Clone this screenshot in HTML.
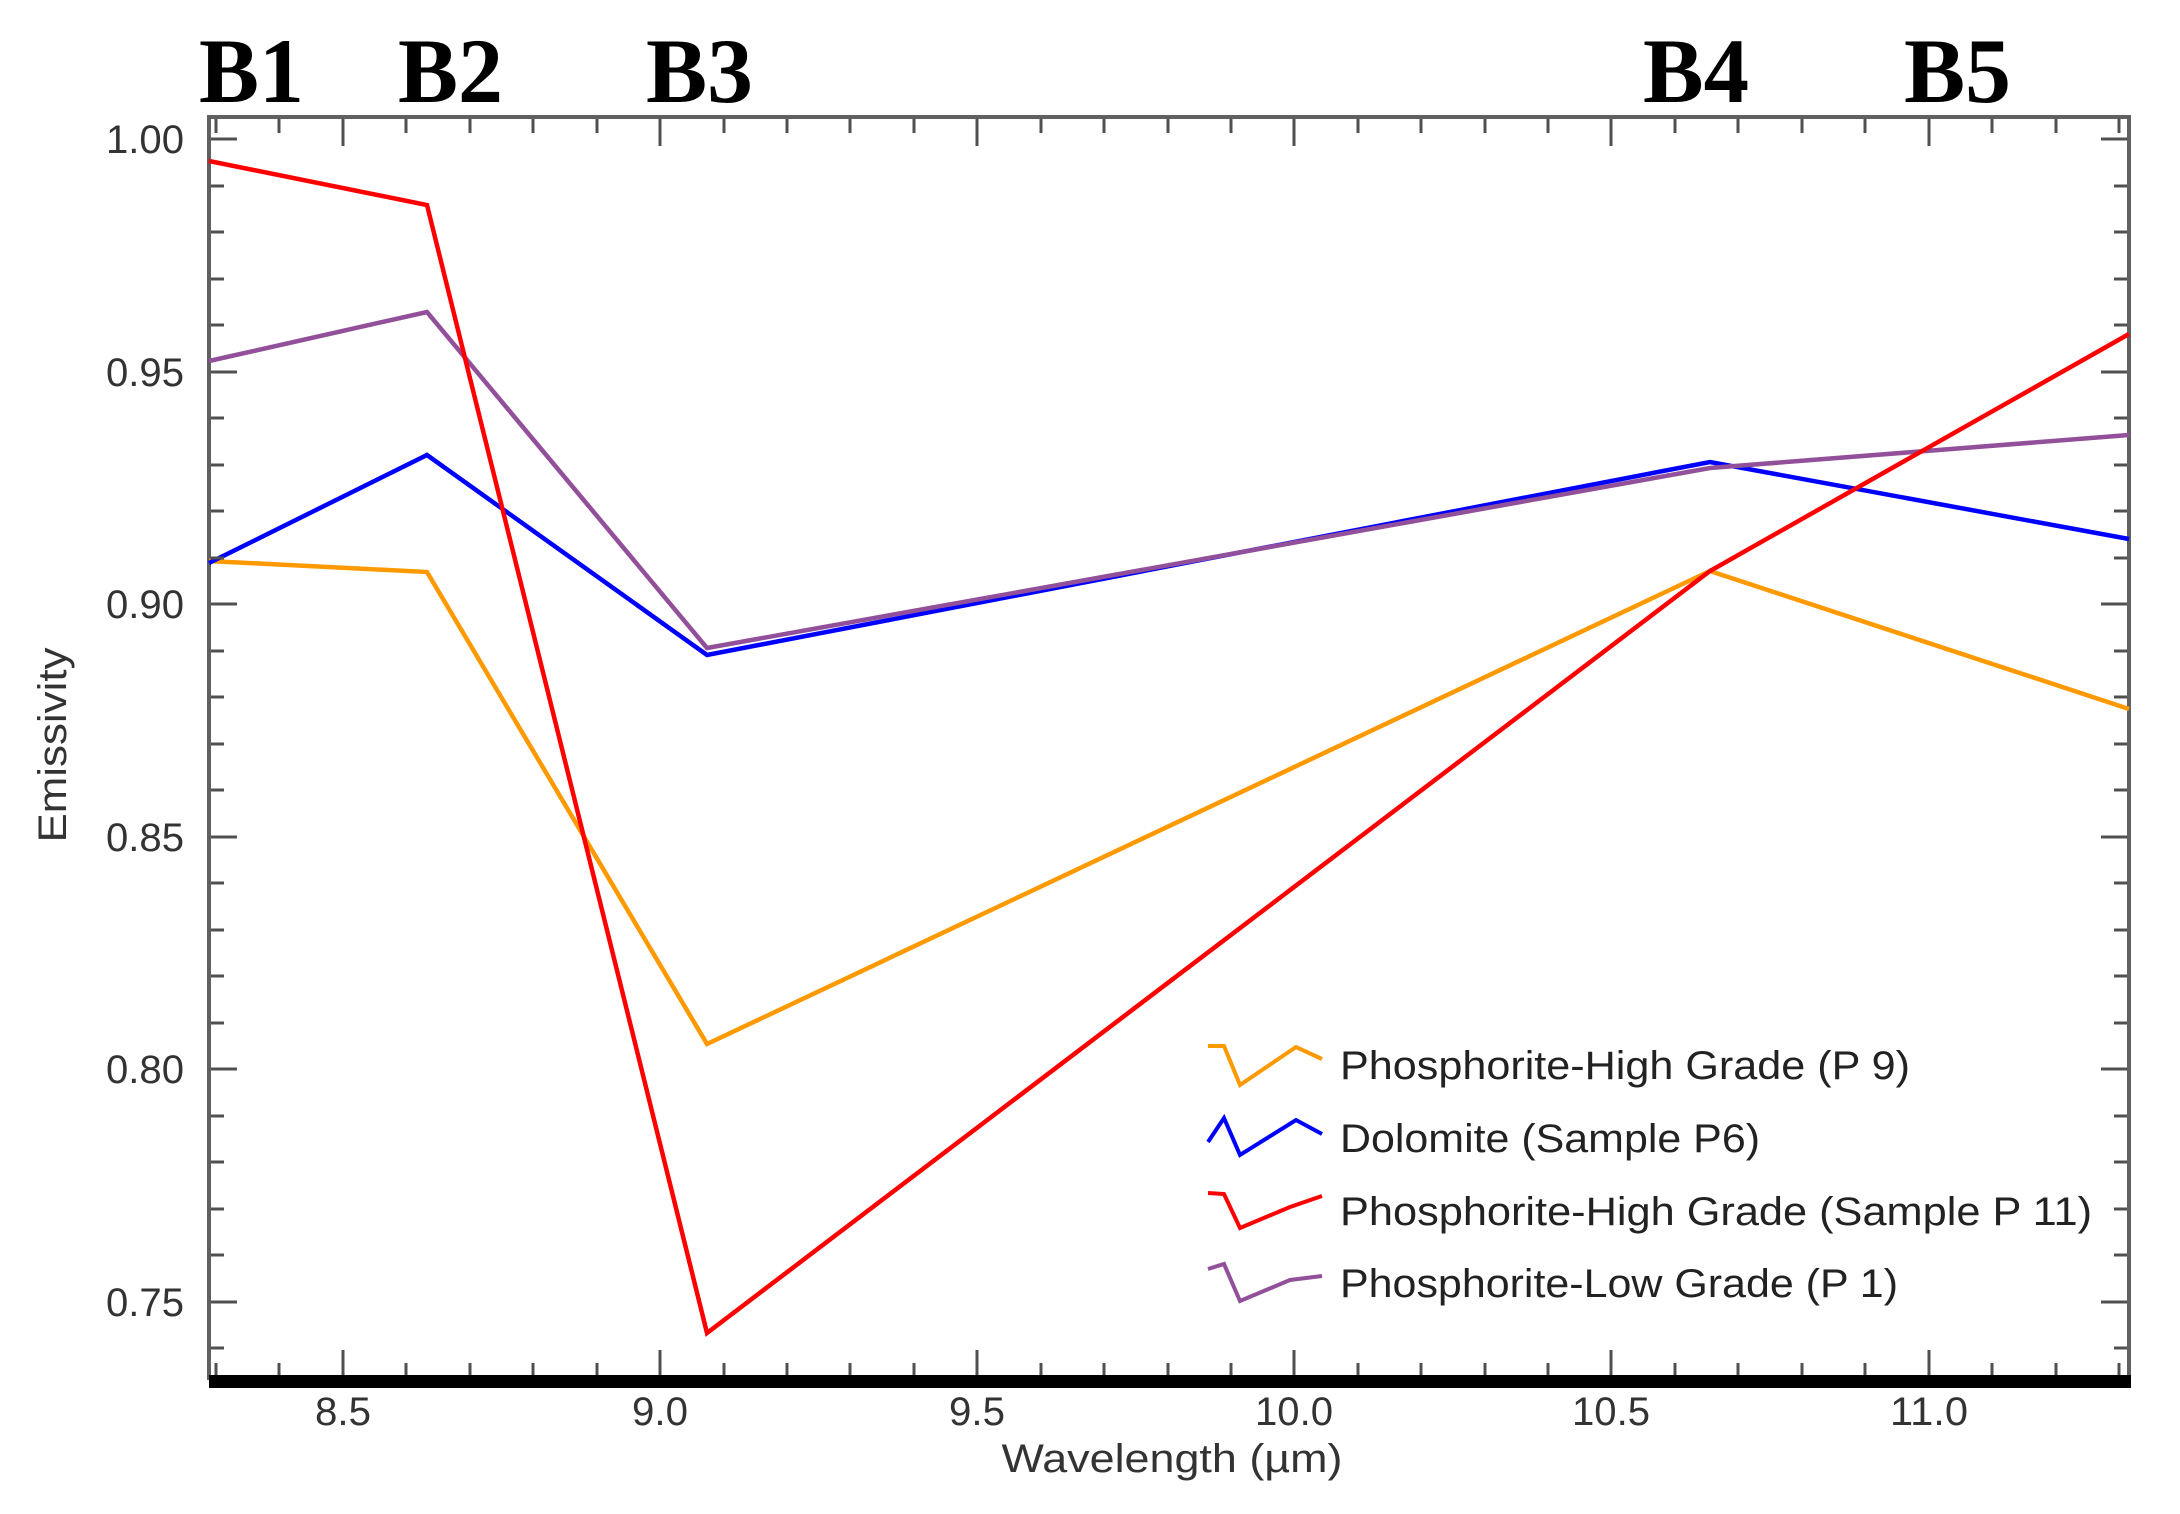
<!DOCTYPE html>
<html><head><meta charset="utf-8"><style>
html,body{margin:0;padding:0;background:#fff;}
svg{display:block;}
</style></head><body>
<svg width="2180" height="1514" viewBox="0 0 2180 1514" xmlns="http://www.w3.org/2000/svg">
<rect width="2180" height="1514" fill="#fff"/>
<g font-family="'Liberation Serif',serif" font-size="92" font-weight="bold" fill="#000">
<text x="199" y="102" textLength="105" lengthAdjust="spacingAndGlyphs">B1</text>
<text x="398" y="102" textLength="105" lengthAdjust="spacingAndGlyphs">B2</text>
<text x="646" y="102" textLength="107" lengthAdjust="spacingAndGlyphs">B3</text>
<text x="1643" y="102" textLength="106" lengthAdjust="spacingAndGlyphs">B4</text>
<text x="1904" y="102" textLength="107" lengthAdjust="spacingAndGlyphs">B5</text>
</g>
<g stroke="#606060" stroke-width="4" fill="none">
<line x1="209" y1="117" x2="2131" y2="117"/>
<line x1="209" y1="115" x2="209" y2="1380"/>
<line x1="2129" y1="115" x2="2129" y2="1380"/>
</g>
<rect x="209" y="1375" width="1922" height="13" fill="#000"/>
<g font-family="'Liberation Sans',sans-serif" font-size="40" fill="#333" text-anchor="end">
<text x="184" y="153" textLength="78" lengthAdjust="spacingAndGlyphs">1.00</text>
<text x="184" y="386" textLength="78" lengthAdjust="spacingAndGlyphs">0.95</text>
<text x="184" y="618" textLength="78" lengthAdjust="spacingAndGlyphs">0.90</text>
<text x="184" y="851" textLength="78" lengthAdjust="spacingAndGlyphs">0.85</text>
<text x="184" y="1083" textLength="78" lengthAdjust="spacingAndGlyphs">0.80</text>
<text x="184" y="1316" textLength="78" lengthAdjust="spacingAndGlyphs">0.75</text>
</g>
<g font-family="'Liberation Sans',sans-serif" font-size="40" fill="#333" text-anchor="middle">
<text x="343" y="1425" textLength="56" lengthAdjust="spacingAndGlyphs">8.5</text>
<text x="660" y="1425" textLength="56" lengthAdjust="spacingAndGlyphs">9.0</text>
<text x="977" y="1425" textLength="56" lengthAdjust="spacingAndGlyphs">9.5</text>
<text x="1294" y="1425" textLength="78" lengthAdjust="spacingAndGlyphs">10.0</text>
<text x="1611" y="1425" textLength="78" lengthAdjust="spacingAndGlyphs">10.5</text>
<text x="1929" y="1425" textLength="78" lengthAdjust="spacingAndGlyphs">11.0</text>
<text x="1172" y="1472" textLength="341" lengthAdjust="spacingAndGlyphs">Wavelength (µm)</text>
<text transform="translate(66,745) rotate(-90)" textLength="195" lengthAdjust="spacingAndGlyphs">Emissivity</text>
</g>
<g fill="none" stroke-width="4.5" stroke-linejoin="miter">
<polyline stroke="#ff9900" points="209,561 427,572 707,1044 1710,571 2129,709"/>
<polyline stroke="#0000ff" points="209,563 427,455 707,655 1710,462 2129,539"/>
<polyline stroke="#93509a" points="209,361 427,312 707,648 1710,468 2129,435"/>
<polyline stroke="#ff0000" points="209,161 427,205 707,1333 1710,571 2129,334"/>
</g>
<g fill="none" stroke-width="4">
<polyline stroke="#ff9900" points="1208,1046 1224,1046 1240,1085 1296,1047 1322,1059"/>
<polyline stroke="#0000ff" points="1208,1142 1224,1118 1240,1155 1296,1120 1322,1134"/>
<polyline stroke="#ff0000" points="1208,1193 1224,1194 1240,1228 1290,1207 1322,1196"/>
<polyline stroke="#93509a" points="1208,1269 1224,1264 1240,1301 1290,1280 1322,1276"/>
</g>
<g font-family="'Liberation Sans',sans-serif" font-size="40" fill="#222">
<text x="1340" y="1079" textLength="570" lengthAdjust="spacingAndGlyphs">Phosphorite-High Grade (P 9)</text>
<text x="1340" y="1152" textLength="420" lengthAdjust="spacingAndGlyphs">Dolomite (Sample P6)</text>
<text x="1340" y="1225" textLength="752" lengthAdjust="spacingAndGlyphs">Phosphorite-High Grade (Sample P 11)</text>
<text x="1340" y="1297" textLength="558" lengthAdjust="spacingAndGlyphs">Phosphorite-Low Grade (P 1)</text>
</g>
<g stroke="#505050" stroke-width="3">
<path d="M216 119v14M216 1375v-12 M279 119v14M279 1375v-12 M343 119v27M343 1375v-25 M406 119v14M406 1375v-12 M470 119v14M470 1375v-12 M533 119v14M533 1375v-12 M597 119v14M597 1375v-12 M660 119v27M660 1375v-25 M724 119v14M724 1375v-12 M787 119v14M787 1375v-12 M850 119v14M850 1375v-12 M914 119v14M914 1375v-12 M977 119v27M977 1375v-25 M1041 119v14M1041 1375v-12 M1104 119v14M1104 1375v-12 M1168 119v14M1168 1375v-12 M1231 119v14M1231 1375v-12 M1294 119v27M1294 1375v-25 M1358 119v14M1358 1375v-12 M1421 119v14M1421 1375v-12 M1485 119v14M1485 1375v-12 M1548 119v14M1548 1375v-12 M1611 119v27M1611 1375v-25 M1675 119v14M1675 1375v-12 M1738 119v14M1738 1375v-12 M1802 119v14M1802 1375v-12 M1865 119v14M1865 1375v-12 M1929 119v27M1929 1375v-25 M1992 119v14M1992 1375v-12 M2056 119v14M2056 1375v-12 M2119 119v14M2119 1375v-12"/>
<path d="M211 139h26M2127 139h-26 M211 186h13M2127 186h-13 M211 232h13M2127 232h-13 M211 279h13M2127 279h-13 M211 325h13M2127 325h-13 M211 372h26M2127 372h-26 M211 418h13M2127 418h-13 M211 465h13M2127 465h-13 M211 511h13M2127 511h-13 M211 558h13M2127 558h-13 M211 604h26M2127 604h-26 M211 651h13M2127 651h-13 M211 697h13M2127 697h-13 M211 744h13M2127 744h-13 M211 790h13M2127 790h-13 M211 837h26M2127 837h-26 M211 883h13M2127 883h-13 M211 930h13M2127 930h-13 M211 976h13M2127 976h-13 M211 1023h13M2127 1023h-13 M211 1069h26M2127 1069h-26 M211 1116h13M2127 1116h-13 M211 1162h13M2127 1162h-13 M211 1209h13M2127 1209h-13 M211 1255h13M2127 1255h-13 M211 1302h26M2127 1302h-26 M211 1348h13M2127 1348h-13"/>
</g>
</svg>
</body></html>
